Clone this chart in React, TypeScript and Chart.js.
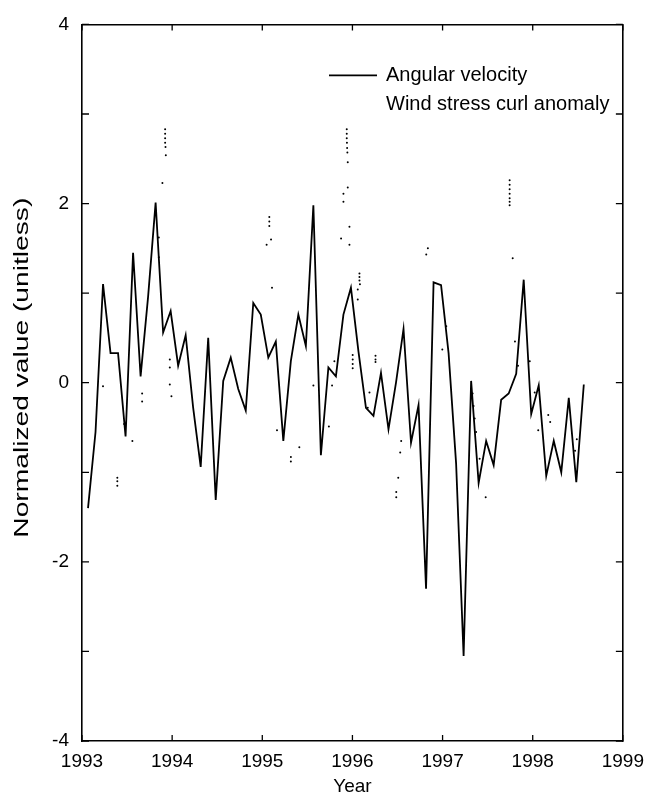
import React, { useEffect, useRef } from "react";
import { Chart, registerables } from "chart.js";

Chart.register(...registerables);

// ---- data -------------------------------------------------------------

// Monthly samples start early in January 1993, one value per month.
const firstSampleYear = 1993 + 0.8 / 12;

// Normalized angular velocity, one value per month (Jan 1993 .. Jul 1998)
const angularVelocity = [
  -1.4, -0.55, 1.1, 0.33, 0.33, -0.6, 1.45, 0.07, 0.96, 2.01, 0.56, 0.8,
  0.19, 0.53, -0.28, -0.94, 0.5, -1.31, 0.02, 0.28, -0.07, -0.31, 0.89, 0.76,
  0.28, 0.46, -0.65, 0.24, 0.76, 0.41, 1.98, -0.81, 0.17, 0.07, 0.76, 1.06,
  0.35, -0.28, -0.37, 0.11, -0.52, 0.0, 0.6, -0.67, -0.25, -2.3, 1.12, 1.09,
  0.33, -0.9, -3.05, 0.02, -1.12, -0.65, -0.92, -0.19, -0.12, 0.1, 1.15, -0.35,
  -0.03, -1.04, -0.65, -1.0, -0.17, -1.11, -0.02,
];

// Wind stress curl anomaly samples (decimal year, normalized value)
const windYears = [
  1993.233,
  1993.392, 1993.392, 1993.392,
  1993.467, 1993.559,
  1993.667, 1993.667,
  1993.852, 1993.852,
  1993.892,
  1993.922, 1993.922, 1993.922, 1993.922,
  1993.926, 1993.93,
  1993.974, 1993.974, 1993.974, 1993.992,
  1995.048,
  1995.078, 1995.078, 1995.078,
  1995.097, 1995.108, 1995.163,
  1995.317, 1995.317,
  1995.411, 1995.567, 1995.739, 1995.774, 1995.8, 1995.874,
  1995.9, 1995.9,
  1995.937, 1995.937, 1995.937,
  1995.939, 1995.941, 1995.944,
  1995.948, 1995.948,
  1995.967, 1995.967,
  1996.003, 1996.003, 1996.003, 1996.003,
  1996.059, 1996.059,
  1996.078, 1996.078, 1996.078, 1996.083,
  1996.17, 1996.189,
  1996.256, 1996.256, 1996.256,
  1996.486, 1996.486, 1996.508, 1996.53, 1996.541,
  1996.819, 1996.837,
  1996.997, 1997.041,
  1997.333, 1997.344, 1997.356, 1997.372, 1997.411, 1997.478,
  1997.744, 1997.744, 1997.744, 1997.744, 1997.744, 1997.744, 1997.744,
  1997.778, 1997.803, 1997.837, 1997.967,
  1998.022, 1998.061, 1998.172, 1998.194, 1998.47, 1998.489,
];
const windValues = [
  -0.04,
  -1.06, -1.1, -1.15,
  -0.46, -0.65,
  -0.12, -0.21,
  1.62, 1.4,
  2.23,
  2.83, 2.78, 2.73, 2.68,
  2.63, 2.54,
  0.26, 0.17, -0.02, -0.15,
  1.54,
  1.85, 1.8, 1.75,
  1.6, 1.06, -0.53,
  -0.83, -0.88,
  -0.72, -0.03, -0.49, -0.03, 0.24, 1.61,
  2.11, 2.02,
  2.83, 2.78, 2.73,
  2.68, 2.62, 2.57,
  2.46, 2.18,
  1.74, 1.54,
  0.31, 0.26, 0.21, 0.16,
  1.04, 0.93,
  1.22, 1.18, 1.14, 1.1,
  -0.28, -0.11,
  0.3, 0.26, 0.23,
  -1.22, -1.28, -1.06, -0.78, -0.65,
  1.43, 1.5,
  0.37, 0.63,
  -0.12, -0.26, -0.4, -0.55, -0.85, -1.28,
  2.26, 2.21, 2.16, 2.11, 2.06, 2.02, 1.98,
  1.39, 0.46, 0.19, 0.24,
  -0.11, -0.53, -0.36, -0.44, -0.76, -0.63,
];

// Axis ticks
const yearTicks = [1993, 1994, 1995, 1996, 1997, 1998, 1999];
const valueTicks = [-4, -3, -2, -1, 0, 1, 2, 3, 4];
const labelledValues = [-4, -2, 0, 2, 4];

const seriesLabels = ["Angular velocity", "Wind stress curl anomaly"];
const yAxisTitle = "Normalized value (unitless)";

// ---- styling ----------------------------------------------------------

const FONT = '"Liberation Sans", Arial, Helvetica, sans-serif';
const INK = "#000";

// Short tick marks pointing into the plot on all four sides
const frameTicks = {
  id: "frameTicks",
  afterDraw(chart: any) {
    const { ctx, chartArea: a, scales } = chart;
    ctx.save();
    ctx.strokeStyle = INK;
    ctx.lineWidth = 1.3;
    ctx.beginPath();
    for (const t of scales.x.ticks) {
      const px = scales.x.getPixelForValue(t.value);
      ctx.moveTo(px, a.bottom);
      ctx.lineTo(px, a.bottom - 6);
      ctx.moveTo(px, a.top);
      ctx.lineTo(px, a.top + 6);
    }
    for (const t of scales.y.ticks) {
      const py = scales.y.getPixelForValue(t.value);
      ctx.moveTo(a.left, py);
      ctx.lineTo(a.left + 7, py);
      ctx.moveTo(a.right, py);
      ctx.lineTo(a.right - 7, py);
    }
    ctx.stroke();
    ctx.restore();
  },
};

// Vertical axis title, set in a tall, elongated face
const verticalTitle = {
  id: "verticalTitle",
  afterDraw(chart: any) {
    const { ctx, chartArea: a } = chart;
    const cx = a.left - 60;
    const cy = (a.top + a.bottom) / 2 - 15;
    ctx.save();
    ctx.font = `21px ${FONT}`;
    const w = ctx.measureText(yAxisTitle).width;
    ctx.translate(cx, cy);
    ctx.rotate(-Math.PI / 2);
    ctx.scale(340 / w, 1);
    ctx.fillStyle = INK;
    ctx.textAlign = "center";
    ctx.textBaseline = "middle";
    ctx.fillText(yAxisTitle, 0, 0);
    ctx.restore();
  },
};

// Legend drawn inside the upper right of the plot
const insideLegend = {
  id: "insideLegend",
  afterDraw(chart: any) {
    const { ctx, chartArea: a } = chart;
    const ds = chart.data.datasets;
    const lineX0 = a.left + 247;
    const lineX1 = a.left + 295;
    const textX = a.left + 304;
    const row0 = a.top + 51;
    const rowGap = 29;
    ctx.save();
    ctx.font = `20px ${FONT}`;
    ctx.fillStyle = INK;
    ctx.textBaseline = "middle";
    ctx.textAlign = "left";
    ds.forEach((d: any, i: number) => {
      const y = row0 + i * rowGap;
      if (d.showLine) {
        ctx.strokeStyle = d.borderColor;
        ctx.lineWidth = d.borderWidth;
        ctx.beginPath();
        ctx.moveTo(lineX0, y);
        ctx.lineTo(lineX1, y);
        ctx.stroke();
      }
      ctx.fillText(d.label, textX, y);
    });
    ctx.restore();
  },
};

export default function App() {
  const canvasRef = useRef<HTMLCanvasElement | null>(null);

  useEffect(() => {
    const canvas = canvasRef.current;
    if (!canvas) return;

    const angularPoints = angularVelocity.map((v, i) => ({
      x: firstSampleYear + i / 12,
      y: v,
    }));
    const windPoints = windYears.map((yr, i) => ({ x: yr, y: windValues[i] }));

    const tickFont = { family: FONT, size: 19 };

    const chart = new Chart(canvas, {
      type: "scatter",
      data: {
        datasets: [
          {
            label: seriesLabels[0],
            data: angularPoints,
            showLine: true,
            borderColor: INK,
            borderWidth: 1.8,
            pointRadius: 0,
            tension: 0,
            order: 1,
          } as any,
          {
            label: seriesLabels[1],
            data: windPoints,
            showLine: false,
            pointRadius: 1,
            pointBorderWidth: 0,
            pointBackgroundColor: INK,
            backgroundColor: INK,
            borderColor: INK,
            order: 2,
          } as any,
        ],
      },
      options: {
        responsive: false,
        animation: false,
        layout: { padding: 0 },
        plugins: {
          legend: { display: false },
          tooltip: { enabled: false },
        },
        scales: {
          x: {
            type: "linear",
            position: "bottom",
            min: 1993,
            max: 1999,
            afterBuildTicks: (s: any) => {
              s.ticks = yearTicks.map((v) => ({ value: v }));
            },
            ticks: {
              autoSkip: false,
              maxRotation: 0,
              color: INK,
              font: tickFont,
              padding: 9,
              callback: (v: any) => String(v),
            },
            grid: { display: false, drawTicks: false },
            border: { display: true, color: INK, width: 1.6 },
            title: {
              display: true,
              text: "Year",
              color: INK,
              font: tickFont,
              padding: { top: -5, bottom: -5 },
            },
            afterFit: (s: any) => {
              s.height = 52;
            },
          },
          x2: {
            type: "linear",
            position: "top",
            min: 1993,
            max: 1999,
            ticks: { display: false },
            grid: { display: false, drawTicks: false },
            border: { display: true, color: INK, width: 1.6 },
            afterFit: (s: any) => {
              s.height = 20;
            },
          },
          y: {
            type: "linear",
            position: "left",
            min: -4,
            max: 4,
            afterBuildTicks: (s: any) => {
              s.ticks = valueTicks.map((v) => ({ value: v }));
            },
            ticks: {
              autoSkip: false,
              color: INK,
              font: tickFont,
              padding: 13,
              callback: (v: any) => (labelledValues.includes(v) ? String(v) : ""),
            },
            grid: { display: false, drawTicks: false },
            border: { display: true, color: INK, width: 1.6 },
            afterFit: (s: any) => {
              s.width = 82;
            },
          },
          y2: {
            type: "linear",
            position: "right",
            min: -4,
            max: 4,
            ticks: { display: false },
            grid: { display: false, drawTicks: false },
            border: { display: true, color: INK, width: 1.6 },
            afterFit: (s: any) => {
              s.width = 30;
            },
          },
        },
      } as any,
      plugins: [frameTicks, verticalTitle, insideLegend],
    });

    return () => chart.destroy();
  }, []);

  return (
    <div
      style={{
        position: "absolute",
        left: 0,
        top: 0,
        width: 653,
        height: 793,
        background: "#fff",
      }}
    >
      <canvas ref={canvasRef} width={653} height={793} />
    </div>
  );
}
